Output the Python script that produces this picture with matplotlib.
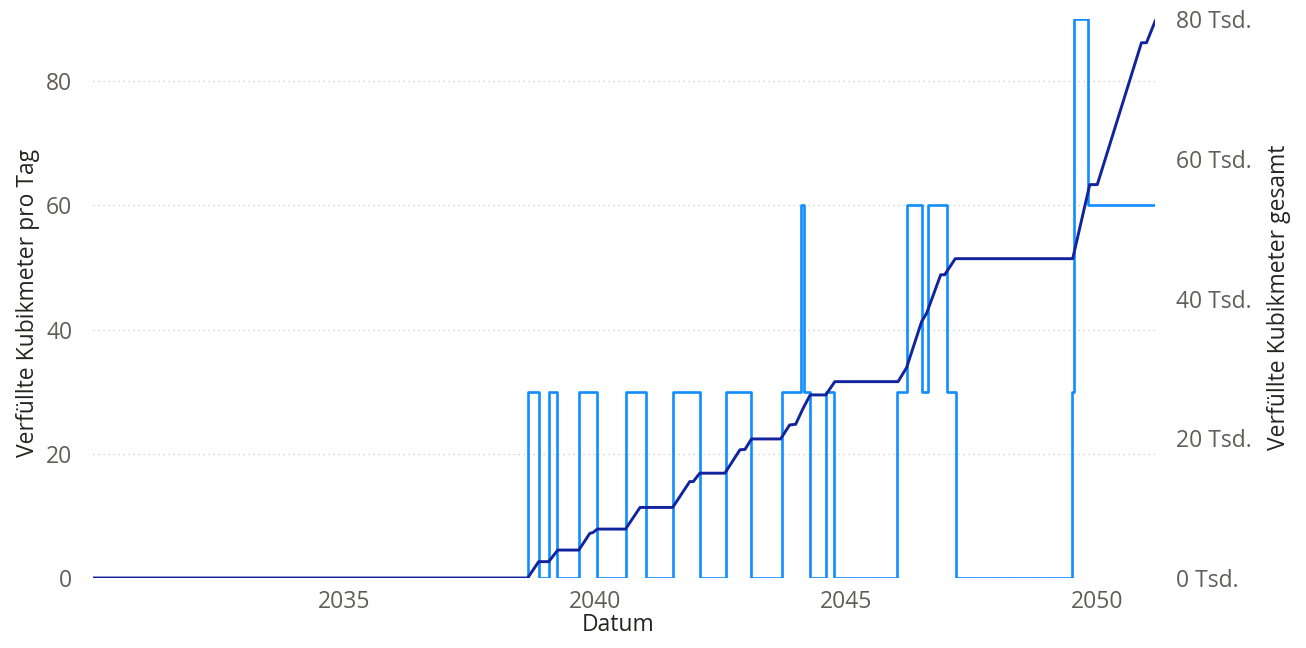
import matplotlib
matplotlib.use("Agg")
import matplotlib.pyplot as plt

# Daily filled volume (m³/day), step series: change dates (decimal years) and new level
rate_dates = [2030.00, 2038.66, 2038.88, 2039.08, 2039.24, 2039.69, 2040.05,
              2040.61, 2041.01, 2041.55, 2042.09, 2042.61, 2043.12, 2043.72,
              2044.11, 2044.16, 2044.29, 2044.60, 2044.76, 2046.02, 2046.21,
              2046.51, 2046.64, 2047.01, 2047.20, 2049.51, 2049.54, 2049.82,
              2051.16]
rate_values = [0, 30, 0, 30, 0, 30, 0,
               30, 0, 30, 0, 30, 0, 30,
               60, 30, 0, 30, 0, 30, 60,
               30, 60, 30, 0, 30, 90, 60,
               60]

# Cumulative filled volume (m³)
total_dates = [2030.00, 2038.66, 2038.88, 2039.08, 2039.26, 2039.68, 2039.90,
               2039.96, 2040.05, 2040.61, 2040.90, 2041.55, 2041.89, 2041.96,
               2042.09, 2042.59, 2042.89, 2042.99, 2043.12, 2043.70, 2043.88,
               2044.00, 2044.15, 2044.29, 2044.60, 2044.78, 2046.04, 2046.21,
               2046.51, 2046.61, 2046.89, 2046.97, 2047.18, 2049.52, 2049.86,
               2050.01, 2050.89, 2050.99, 2051.18]
total_values = [0, 0, 2340, 2340, 4000, 4000, 6400,
                6500, 7000, 7000, 10100, 10100, 13800, 13800,
                15000, 15000, 18350, 18400, 19900, 19900, 21900,
                22000, 24300, 26200, 26200, 28100, 28100, 30100,
                36700, 37900, 43400, 43400, 45700, 45700, 56300,
                56300, 76600, 76600, 80000]

year_ticks = [2035, 2040, 2045, 2050]
rate_ticks = [0, 20, 40, 60, 80]
total_ticks = [0, 20000, 40000, 60000, 80000]
total_tick_labels = ["0 Tsd.", "20 Tsd.", "40 Tsd.", "60 Tsd.", "80 Tsd."]

plt.rcParams["font.family"] = ["Open Sans", "DejaVu Sans"]

LIGHT = "#118DFF"
DARK = "#12239E"
TICK = "#605E5C"
TITLE = "#252423"

W, H = 1306, 648
fig = plt.figure(figsize=(W / 100, H / 100), dpi=100)
L, R, T, B = 93, 1155, 19, 578
ax = fig.add_axes([L / W, 1 - B / H, (R - L) / W, (B - T) / H])
ax2 = ax.twinx()

ax.step(rate_dates, rate_values, where="post", color=LIGHT, lw=1.9, zorder=3)
ax2.plot(total_dates, total_values, color=DARK, lw=2.1, zorder=4)

ax.set_xlim(2030.0, 2051.16)
ax.set_ylim(0, 90)
ax2.set_ylim(0, 80000)

ax.set_xticks(year_ticks)
ax.set_xticklabels([str(y) for y in year_ticks])
ax.set_yticks(rate_ticks)
ax.set_yticklabels([str(v) for v in rate_ticks])
ax2.set_yticks(total_ticks)
ax2.set_yticklabels(total_tick_labels)

for a in (ax, ax2):
    for s in a.spines.values():
        s.set_visible(False)
    a.tick_params(length=0, labelsize=16.5, labelcolor=TICK)
ax.tick_params(axis="x", pad=9)
ax.tick_params(axis="y", pad=15)
ax2.tick_params(axis="y", pad=15)

ax.grid(axis="y", color="#C8C6C4", linestyle=(0, (1, 3)), lw=0.9)
ax.grid(axis="x", visible=False)
ax.set_axisbelow(True)

fig.text(28 / W, 1 - 303 / H, "Verfüllte Kubikmeter pro Tag", rotation=90,
         ha="center", va="center", fontsize=16.5, color=TITLE)
fig.text(1279 / W, 1 - 297 / H, "Verfüllte Kubikmeter gesamt", rotation=90,
         ha="center", va="center", fontsize=16.5, color=TITLE)
fig.text(618 / W, 1 - 625 / H, "Datum", ha="center", va="center",
         fontsize=16.5, color=TITLE)

fig.savefig("out.png", dpi=100)
